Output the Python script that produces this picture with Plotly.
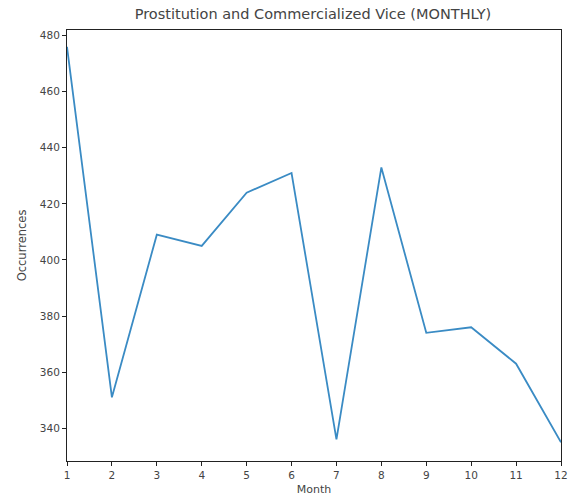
import plotly.graph_objects as go

months = [1, 2, 3, 4, 5, 6, 7, 8, 9, 10, 11, 12]
occurrences = [476, 351, 409, 405, 424, 431, 336, 433, 374, 376, 363, 335]
y_ticks = [340, 360, 380, 400, 420, 440, 460, 480]

fig = go.Figure()
fig.add_trace(go.Scatter(x=months, y=occurrences, mode="lines",
                         line=dict(color="#3a8bc4", width=1.8)))

axis_common = dict(showline=True, linecolor="#222", linewidth=1, mirror=True,
                   ticks="outside", ticklen=4, tickcolor="#222", showgrid=False,
                   zeroline=False, automargin=False,
                   tickfont=dict(family="DejaVu Sans", size=10.5, color="#444"))

fig.update_layout(
    width=568, height=499,
    margin=dict(l=67, r=7, t=30, b=38),
    paper_bgcolor="white", plot_bgcolor="white",
    showlegend=False,
    title=dict(text="Prostitution and Commercialized Vice (MONTHLY)", x=0.551, xanchor="center",
               y=0.973, yanchor="middle", automargin=False,
               font=dict(family="DejaVu Sans", size=14.5, color="#444")),
    xaxis=dict(range=[1, 12], tickvals=months, title=dict(text="Month", standoff=5,
               font=dict(family="DejaVu Sans", size=11, color="#444")), **axis_common),
    yaxis=dict(range=[328.3, 482], tickvals=y_ticks, title=dict(text="Occurrences", standoff=10,
               font=dict(family="DejaVu Sans", size=11.5, color="#444")), **axis_common),
)

fig.write_html("out.html", config={"displayModeBar": False},
               post_script="document.body.style.margin='0';document.body.style.overflow='hidden';")
